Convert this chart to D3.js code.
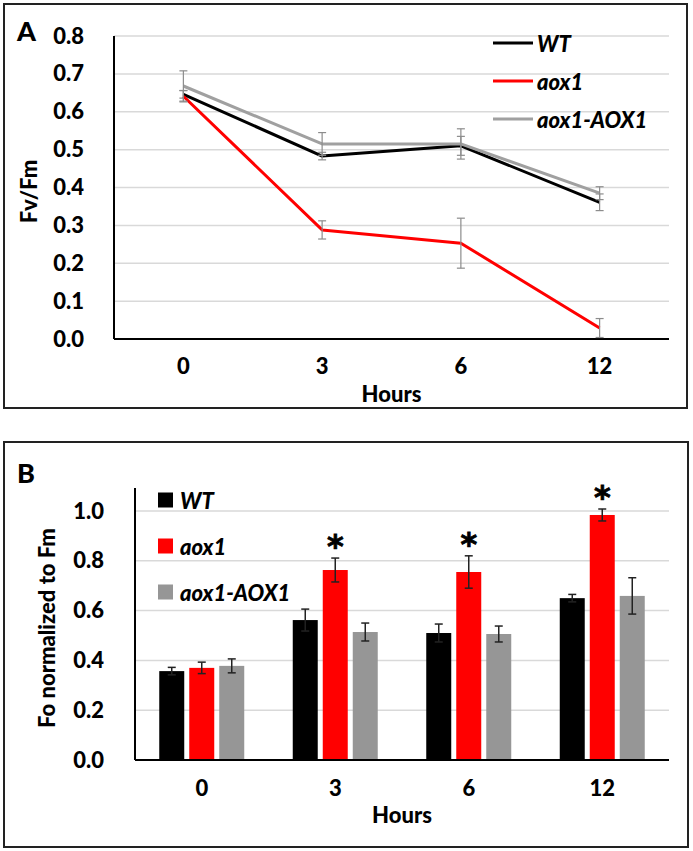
<!DOCTYPE html>
<html>
<head>
<meta charset="utf-8">
<script src="https://cdn.jsdelivr.net/npm/d3@7"></script>
<style>
  body { margin: 0; background: #fff; }
  svg { display: block; font-family: Lato, "Open Sans", sans-serif; }
</style>
</head>
<body>
<svg id="chart" width="693" height="851"></svg>
<script>
// categories and series
const hours = ['0', '3', '6', '12']
const seriesNames = ['WT', 'aox1', 'aox1-AOX1']
const seriesColors = ['#000000', '#ff0000', '#a0a0a0']

// panel A: Fv/Fm
const fvfmWT = [0.646, 0.483, 0.510, 0.361]
const fvfmWTErr = [0.010, 0.010, 0.025, 0.022]
const fvfmAox1 = [0.641, 0.288, 0.253, 0.029]
const fvfmAox1Err = [0.015, 0.024, 0.066, 0.025]
const fvfmComp = [0.668, 0.515, 0.515, 0.385]
const fvfmCompErr = [0.040, 0.030, 0.040, 0.017]
const ticksA = [0, 0.1, 0.2, 0.3, 0.4, 0.5, 0.6, 0.7, 0.8]

// panel B: Fo normalized to Fm
const foWT = [0.357, 0.562, 0.510, 0.650]
const foWTErr = [0.015, 0.044, 0.036, 0.015]
const foAox1 = [0.370, 0.763, 0.755, 0.984]
const foAox1Err = [0.023, 0.048, 0.065, 0.024]
const foComp = [0.378, 0.514, 0.506, 0.659]
const foCompErr = [0.028, 0.036, 0.032, 0.073]
const ticksB = [0, 0.2, 0.4, 0.6, 0.8, 1.0]
const significant = [false, true, true, true]

const svg = d3.select('#chart')
const fmt = d3.format('.1f')
const labelFont = 'Lato, sans-serif'

// ---------- panel frames ----------
function frame(x, y, w, h, letter, ly) {
  svg.append('rect')
    .attr('x', x).attr('y', y).attr('width', w).attr('height', h)
    .attr('fill', 'none').attr('stroke', '#222').attr('stroke-width', 2)
  svg.append('text')
    .attr('x', 17).attr('y', ly)
    .attr('font-size', 27).attr('font-weight', 900)
    .text(letter)
}
frame(4, 4, 683, 404, 'A', 41)
frame(4, 442, 684, 405, 'B', 483)

function yAxis(g, y, ticks, x0, x1, labelX) {
  g.selectAll('line.grid').data(ticks.filter(d => d > 0)).join('line')
    .attr('class', 'grid')
    .attr('x1', x0).attr('x2', x1)
    .attr('y1', d => y(d)).attr('y2', d => y(d))
    .attr('stroke', '#d9d9d9').attr('stroke-width', 1.5)
  const ax = g.append('g')
    .attr('transform', `translate(${labelX + 8},0)`)
    .call(d3.axisLeft(y).tickValues(ticks).tickFormat(fmt).tickSize(0).tickPadding(8))
  ax.select('.domain').remove()
  ax.selectAll('text').attr('font-size', 22).attr('font-weight', 900)
    .attr('font-family', labelFont).attr('fill', '#000')
}

function xAxis(g, x, yPos, labelY, titleY) {
  const ax = g.append('g')
    .attr('transform', `translate(0,${labelY - 12})`)
    .call(d3.axisBottom(x).tickSize(0).tickPadding(0))
  ax.select('.domain').remove()
  ax.selectAll('text').attr('font-size', 22).attr('font-weight', 900)
    .attr('font-family', labelFont).attr('fill', '#000')
  const r = x.range()
  g.append('text')
    .attr('x', (r[0] + r[1]) / 2).attr('y', titleY)
    .attr('text-anchor', 'middle').attr('dominant-baseline', 'central')
    .attr('font-size', 22).attr('font-weight', 900)
    .text('Hours')
  g.append('line')
    .attr('x1', r[0]).attr('x2', r[1]).attr('y1', yPos).attr('y2', yPos)
    .attr('stroke', '#000').attr('stroke-width', 2)
}

function errBar(g, cx, lo, hi, color, w) {
  g.append('line').attr('x1', cx).attr('x2', cx).attr('y1', lo).attr('y2', hi)
    .attr('stroke', color).attr('stroke-width', w)
  ;[lo, hi].forEach(v => {
    g.append('line').attr('x1', cx - 4).attr('x2', cx + 4).attr('y1', v).attr('y2', v)
      .attr('stroke', color).attr('stroke-width', w)
  })
}

// ---------- panel A ----------
const gA = svg.append('g')
const xA = d3.scaleBand().domain(hours).range([114, 669])
const yA = d3.scaleLinear().domain([0, 0.8]).range([339, 36])

yAxis(gA, yA, ticksA, 114, 669, 84)
gA.append('line').attr('x1', 114).attr('x2', 114).attr('y1', yA(0)).attr('y2', yA(0.8))
  .attr('stroke', '#000').attr('stroke-width', 2)
xAxis(gA, xA, yA(0), 370, 393)

gA.append('text')
  .attr('transform', `translate(28,${(yA(0) + yA(0.8)) / 2 + 4}) rotate(-90)`)
  .attr('text-anchor', 'middle').attr('dominant-baseline', 'central')
  .attr('font-size', 22).attr('font-weight', 900)
  .text('Fv/Fm')

const lineData = [
  [fvfmWT, fvfmWTErr],
  [fvfmAox1, fvfmAox1Err],
  [fvfmComp, fvfmCompErr]
]
const cx = d => xA(d) + xA.bandwidth() / 2
const line = d3.line().x((d, i) => cx(hours[i])).y(d => yA(d))

lineData.forEach(([vals, errs], s) => {
  gA.append('path')
    .attr('d', line(vals))
    .attr('fill', 'none')
    .attr('stroke', seriesColors[s])
    .attr('stroke-width', 3)
    .attr('stroke-linejoin', 'round')
  vals.forEach((v, i) => {
    errBar(gA, cx(hours[i]), yA(Math.max(0, v - errs[i])), yA(v + errs[i]), '#8c8c8c', 1.2)
  })
})

// legend A
seriesNames.forEach((name, i) => {
  const ly = 43 + i * 38
  gA.append('line').attr('x1', 493).attr('x2', 533).attr('y1', ly).attr('y2', ly)
    .attr('stroke', seriesColors[i]).attr('stroke-width', 3)
  gA.append('text').attr('x', 537).attr('y', ly)
    .attr('dominant-baseline', 'central')
    .attr('font-size', 22).attr('font-weight', 900).attr('font-style', 'italic')
    .text(name)
})

// ---------- panel B ----------
const gB = svg.append('g')
const xB = d3.scaleBand().domain(hours).range([135, 669])
const yB = d3.scaleLinear().domain([0, 1.0]).range([760, 511])
const xInner = d3.scaleBand().domain(seriesNames).range([0, 85]).paddingInner(0.167)

yAxis(gB, yB, ticksB, 135, 669, 104)
gB.append('line').attr('x1', 135).attr('x2', 135).attr('y1', yB(0)).attr('y2', 488)
  .attr('stroke', '#000').attr('stroke-width', 2)

gB.append('text')
  .attr('transform', `translate(46,${(yB(0) + 488) / 2 + 4}) rotate(-90)`)
  .attr('text-anchor', 'middle').attr('dominant-baseline', 'central')
  .attr('font-size', 22).attr('font-weight', 900)
  .text('Fo normalized to Fm')

const barData = [
  [foWT, foWTErr],
  [foAox1, foAox1Err],
  [foComp, foCompErr]
]
const groupX = d => xB(d) + xB.bandwidth() / 2 - 42.5

barData.forEach(([vals, errs], s) => {
  gB.selectAll(null).data(vals).join('rect')
    .attr('x', (d, i) => groupX(hours[i]) + xInner(seriesNames[s]))
    .attr('y', d => yB(d))
    .attr('width', xInner.bandwidth())
    .attr('height', d => yB(0) - yB(d))
    .attr('fill', s === 2 ? '#969696' : seriesColors[s])
})
barData.forEach(([vals, errs], s) => {
  vals.forEach((v, i) => {
    const bx = groupX(hours[i]) + xInner(seriesNames[s]) + xInner.bandwidth() / 2
    errBar(gB, bx, yB(v - errs[i]), yB(v + errs[i]), '#222', 1.5)
  })
})

// significance stars
foAox1.forEach((v, i) => {
  if (!significant[i]) return
  const bx = groupX(hours[i]) + xInner('aox1') + xInner.bandwidth() / 2
  gB.append('text')
    .attr('x', bx).attr('y', yB(v + foAox1Err[i]) - 1)
    .attr('text-anchor', 'middle')
    .attr('font-size', 32).attr('font-weight', 'bold')
    .attr('font-family', 'DejaVu Sans, sans-serif')
    .attr('stroke', '#000').attr('stroke-width', 0.8)
    .text('*')
})

xAxis(gB, xB, yB(0), 792, 814)

// legend B
seriesNames.forEach((name, i) => {
  const ly = 500 + i * 46
  gB.append('rect').attr('x', 158).attr('y', ly - 7.5).attr('width', 15).attr('height', 15)
    .attr('fill', i === 2 ? '#969696' : seriesColors[i])
  gB.append('text').attr('x', 180).attr('y', ly)
    .attr('dominant-baseline', 'central')
    .attr('font-size', 22).attr('font-weight', 900).attr('font-style', 'italic')
    .text(name)
})
</script>
</body>
</html>
